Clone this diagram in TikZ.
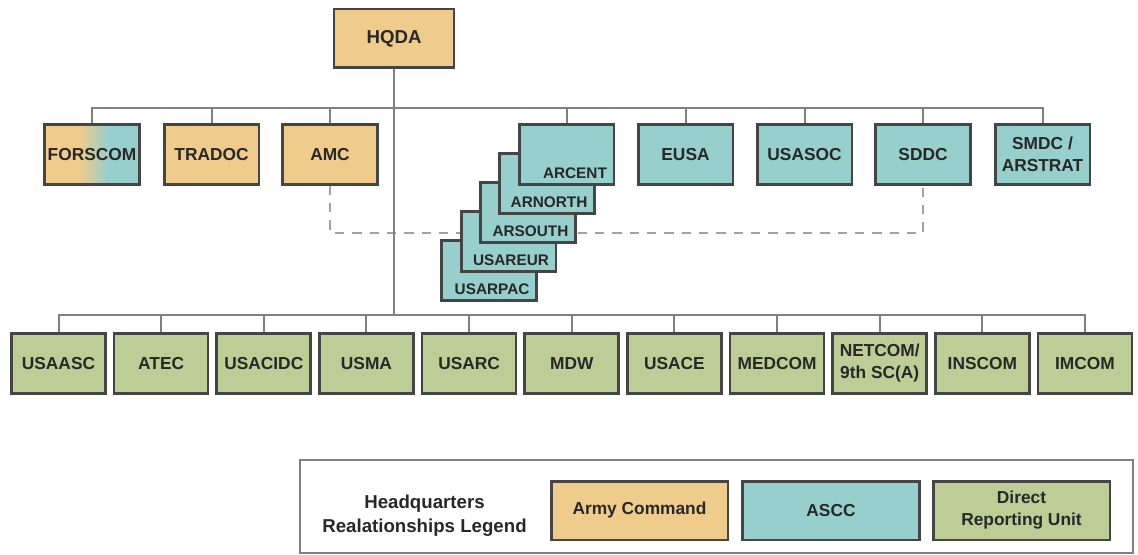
\documentclass[tikz,border=0pt]{standalone}
\usepackage{fontspec}
\setmainfont{Liberation Sans}
\usetikzlibrary{backgrounds}
\definecolor{armycmd}{RGB}{239,203,140}
\definecolor{asccfill}{RGB}{150,207,203}
\definecolor{drufill}{RGB}{188,205,150}
\definecolor{boxline}{RGB}{69,69,69}
\definecolor{busline}{RGB}{128,128,128}
\definecolor{dashline}{RGB}{162,162,162}
\definecolor{inktext}{RGB}{40,40,40}
% FORSCOM is half Army Command, half ASCC
\pgfdeclarehorizontalshading{forscomshade}{100bp}{color(0bp)=(armycmd); color(43.5bp)=(armycmd); color(58.5bp)=(asccfill); color(100bp)=(asccfill)}
\tikzset{
  unitbox/.style={draw=boxline, line width=2pt, minimum width=71pt, minimum height=45pt,
    inner sep=1pt, align=center, text=inktext, font=\bfseries\fontsize{13}{16.5}\selectfont},
  cmdbox/.style={unitbox, fill=armycmd},
  asccbox/.style={unitbox, fill=asccfill},
  drubox/.style={unitbox, fill=drufill, minimum width=70.5pt},
  keybox/.style={unitbox, minimum width=132.5pt, minimum height=44pt},
  stacklbl/.style={anchor=south east, inner sep=0pt, xshift=-6pt, yshift=5pt, text=inktext,
    font=\bfseries\fontsize{11.5}{13}\selectfont},
  bus/.style={draw=busline, line width=1.5pt},
  dashlink/.style={draw=dashline, line width=2.2pt, dash pattern=on 7pt off 6pt},
}

\begin{document}
\begin{tikzpicture}[x=0.75pt,y=-0.75pt]
  \useasboundingbox (0,0) rectangle (1138,555);
  \coordinate (topbus) at (0,108);
  \coordinate (lowbus) at (0,315);
  \coordinate (dashrow) at (0,233);

  \node[cmdbox, minimum width=90pt, minimum height=44pt,
        font=\bfseries\fontsize{14}{16}\selectfont] (hqda) at (394,38.5) {HQDA};

  % army commands and single ASCCs
  \node[unitbox, shade, shading=forscomshade, inner sep=0pt] (forscom) at (92,154.5) {FORSCOM};
  \node[cmdbox] (tradoc) at (211.5,154.5) {TRADOC};
  \node[cmdbox] (amc) at (330,154.5) {AMC};
  \node[asccbox] (eusa) at (685.5,154.5) {EUSA};
  \node[asccbox] (usasoc) at (804.5,154.5) {USASOC};
  \node[asccbox] (sddc) at (923,154.5) {SDDC};
  \node[asccbox] (smdc) at (1042.5,154.5) {SMDC /\\ARSTRAT};

  % the geographic ASCCs, stacked back to front
  \node[asccbox] (usarpac) at (489,270.5) {};
  \node[stacklbl] at (usarpac.south east) {USARPAC};
  \node[asccbox] (usareur) at (508.5,241.5) {};
  \node[stacklbl] at (usareur.south east) {USAREUR};
  \node[asccbox] (arsouth) at (528,212.5) {};
  \node[stacklbl] at (arsouth.south east) {ARSOUTH};
  \node[asccbox] (arnorth) at (547,183.5) {};
  \node[stacklbl] at (arnorth.south east) {ARNORTH};
  \node[asccbox] (arcent) at (566.5,154.5) {};
  \node[stacklbl] at (arcent.south east) {ARCENT};

  % direct reporting units
  \foreach \nm/\txt [count=\i from 0] in {usaasc/USAASC, atec/ATEC, usacidc/USACIDC,
      usma/USMA, usarc/USARC, mdw/MDW, usace/USACE, medcom/MEDCOM,
      netcom/{NETCOM/\\9th SC(A)}, inscom/INSCOM, imcom/IMCOM}
    \node[drubox] (\nm) at ({58.5+102.65*\i},363.5) {\txt};

  \begin{scope}[on background layer]
    \draw[dashlink] (amc.south) -- (amc.south |- dashrow) -- (sddc.south |- dashrow) -- (sddc.south);
    \draw[bus] (hqda.south) -- (hqda.south |- lowbus);
    \draw[bus] (forscom.north) -- (forscom.north |- topbus) -- (smdc.north |- topbus) -- (smdc.north);
    \foreach \nm in {tradoc,amc,arcent,eusa,usasoc,sddc}
      \draw[bus] (\nm.north) -- (\nm.north |- topbus);
    \draw[bus] (usaasc.north) -- (usaasc.north |- lowbus) -- (imcom.north |- lowbus) -- (imcom.north);
    \foreach \nm in {atec,usacidc,usma,usarc,mdw,usace,medcom,netcom,inscom}
      \draw[bus] (\nm.north) -- (\nm.north |- lowbus);
  \end{scope}

  % legend
  \draw[busline, line width=1.5pt] (300,460) rectangle (1133,553);
  \node[align=center, text=inktext, font=\bfseries\fontsize{14}{18}\selectfont] (keytitle) at (424.5,516)
    {Headquarters\\Realationships Legend};
  \node[keybox, fill=armycmd] (keycmd) at (639.5,510.5) {Army Command};
  \node[keybox, fill=asccfill] (keyascc) at (831,510.5) {ASCC};
  \node[keybox, fill=drufill] (keydru) at (1021.5,510.5) {Direct\\Reporting Unit};
\end{tikzpicture}
\end{document}
